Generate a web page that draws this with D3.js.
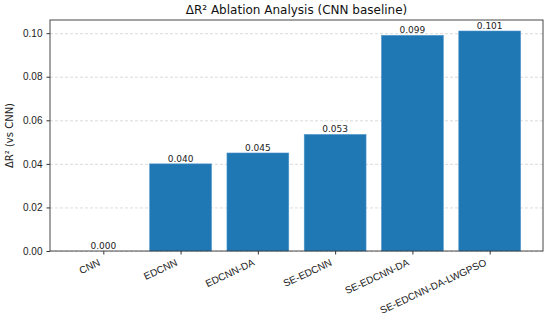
<!DOCTYPE html>
<meta charset="utf-8">
<title>ΔR² Ablation Analysis</title>
<style>
body { margin: 0; background: #fff; }
svg { font-family: "DejaVu Sans", sans-serif; }
.axis text { font-size: 10px; fill: #222; }
.axis path, .axis line { stroke: #333; }
.grid line { stroke: #ccc; stroke-dasharray: 3,2; stroke-width: 0.7; }
.grid path { display: none; }
.label { font-size: 9px; text-anchor: middle; fill: #222; }
</style>
<svg width="550" height="325"></svg>
<script src="https://cdn.jsdelivr.net/npm/d3@7"></script>
<script>

var models = ["CNN", "EDCNN", "EDCNN-DA", "SE-EDCNN", "SE-EDCNN-DA", "SE-EDCNN-DA-LWGPSO"];
var deltaR2 = [0.000, 0.040, 0.045, 0.0535, 0.099, 0.101];
var valueLabels = ["0.000", "0.040", "0.045", "0.053", "0.099", "0.101"];
var yTicks = [0, 0.02, 0.04, 0.06, 0.08, 0.10];

var svg = d3.select("svg"),
    margin = {top: 20, right: 7, bottom: 74, left: 50},
    width = 550 - margin.left - margin.right,
    height = 325 - margin.top - margin.bottom;

var g = svg.append("g")
    .attr("transform", "translate(" + margin.left + "," + margin.top + ")");

// matplotlib-like linear x: bars at integer positions, width 0.8, 5% margins
var x = d3.scaleLinear()
    .domain([-0.69, models.length - 1 + 0.69])
    .range([0, width]);

var y = d3.scaleLinear()
    .domain([0, 0.101 * 1.05])
    .range([height, 0]);

g.append("g")
    .attr("class", "grid")
  .call(d3.axisLeft(y).tickValues(yTicks).tickSize(-width).tickFormat(""));

g.selectAll(".bar")
    .data(deltaR2)
  .enter().append("rect")
    .attr("class", "bar")
    .attr("x", function(d, i) { return x(i - 0.4); })
    .attr("width", x(0.8) - x(0))
    .attr("y", function(d) { return y(d); })
    .attr("height", function(d) { return height - y(d); })
    .attr("fill", "#1f77b4")
    .attr("stroke", "#4f97cc")
    .attr("stroke-width", 0.6);

g.selectAll(".label")
    .data(deltaR2)
  .enter().append("text")
    .attr("class", "label")
    .attr("x", function(d, i) { return x(i); })
    .attr("y", function(d) { return y(d) - 2; })
    .text(function(d, i) { return valueLabels[i]; });

g.append("g")
    .attr("class", "axis")
  .call(d3.axisLeft(y).tickValues(yTicks).tickSize(3.5).tickPadding(4).tickFormat(d3.format(".2f")));

var xAxis = g.append("g")
    .attr("class", "axis")
    .attr("transform", "translate(0," + height + ")")
  .call(d3.axisBottom(x).tickValues(d3.range(models.length)).tickSize(3.5)
    .tickFormat(function(i) { return models[i]; }));

// rotated labels whose box right edge sits under the tick
xAxis.selectAll("text")
    .attr("text-anchor", "end")
    .attr("y", 0)
    .attr("dy", 0)
    .attr("transform", "translate(-3,14) rotate(-25)");

g.selectAll(".axis .domain").remove();

// frame
g.append("rect")
    .attr("width", width)
    .attr("height", height)
    .attr("fill", "none")
    .attr("stroke", "#333")
    .attr("stroke-width", 0.9);

svg.append("text")
    .attr("x", margin.left + width / 2)
    .attr("y", 14)
    .attr("text-anchor", "middle")
    .style("font-size", "12px")
    .style("fill", "#111")
    .text("ΔR² Ablation Analysis (CNN baseline)");

svg.append("text")
    .attr("transform", "translate(13," + (margin.top + height / 2) + ") rotate(-90)")
    .attr("text-anchor", "middle")
    .style("font-size", "10px")
    .style("fill", "#222")
    .text("ΔR² (vs CNN)");

</script>
